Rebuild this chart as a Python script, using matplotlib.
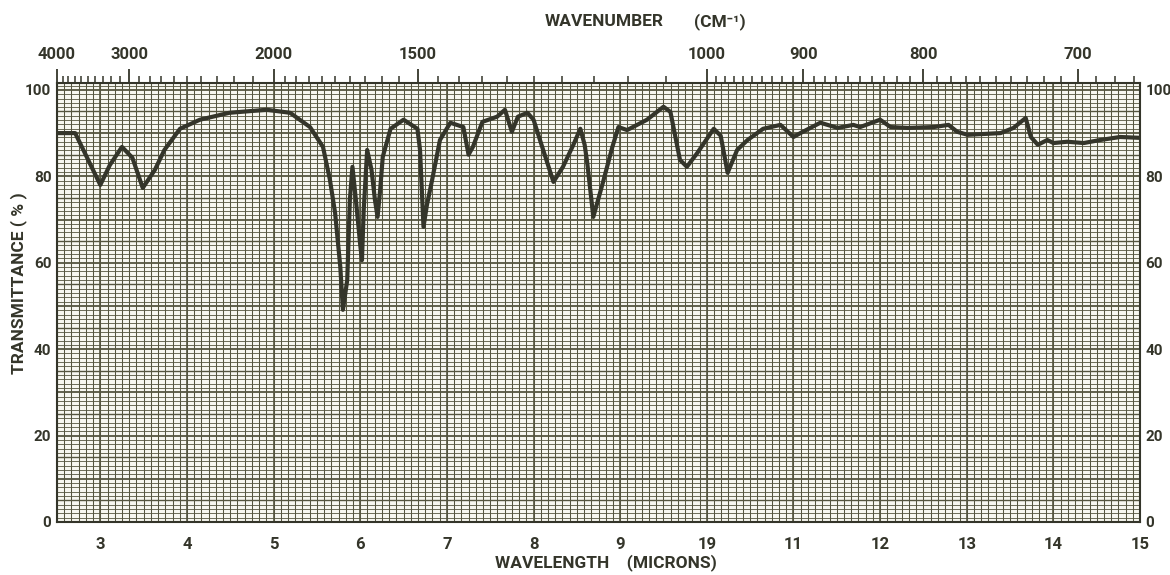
import numpy as np
import matplotlib
matplotlib.use("Agg")
import matplotlib.pyplot as plt

plt.rcParams['font.family'] = ['Roboto', 'DejaVu Sans']

# spectrum: wavelength (microns) and transmittance (%)
wavelength = [2.50, 2.71, 2.86, 3.00, 3.11, 3.25, 3.37, 3.49, 3.63, 3.74,
              3.92, 4.15, 4.49, 4.92, 5.19, 5.42, 5.57, 5.65, 5.71, 5.77,
              5.80, 5.85, 5.88, 5.91, 5.95, 6.00, 6.02, 6.04, 6.08, 6.13,
              6.17, 6.20, 6.23, 6.26, 6.35, 6.50, 6.66, 6.69, 6.73, 6.77,
              6.83, 6.92, 7.04, 7.19, 7.25, 7.30, 7.41, 7.58, 7.67, 7.75,
              7.82, 7.93, 8.00, 8.10, 8.23, 8.34, 8.46, 8.54, 8.59, 8.62,
              8.69, 8.80, 8.91, 8.98, 9.08, 9.31, 9.50, 9.58, 9.69, 9.77,
              9.89, 10.08, 10.16, 10.24, 10.35, 10.47, 10.65, 10.85, 11.00, 11.08,
              11.31, 11.51, 11.69, 11.77, 12.00, 12.12, 12.32, 12.62, 12.79, 12.89,
              13.01, 13.39, 13.54, 13.68, 13.74, 13.82, 13.93, 14.00, 14.16, 14.35,
              14.54, 14.77, 15.00]
transmittance = [90.0, 90.0, 83.8, 78.0, 82.6, 86.8, 84.3, 77.3, 81.5, 86.1,
                 91.0, 93.1, 94.7, 95.4, 94.7, 91.4, 86.8, 79.2, 71.5, 59.0,
                 49.1, 56.0, 74.5, 82.2, 74.5, 64.1, 60.6, 72.2, 86.1, 81.5,
                 74.5, 70.6, 76.9, 84.5, 91.0, 93.1, 91.0, 86.1, 68.3, 73.4,
                 79.2, 88.4, 92.4, 91.4, 85.0, 86.8, 92.6, 93.8, 95.4, 90.3,
                 93.8, 94.7, 93.1, 86.8, 78.7, 82.2, 87.3, 91.0, 87.3, 83.1,
                 70.6, 78.5, 86.8, 91.4, 90.7, 93.1, 96.1, 94.9, 83.8, 82.2,
                 85.4, 91.0, 89.4, 80.8, 86.1, 88.4, 91.0, 91.9, 89.1, 90.0,
                 92.4, 91.2, 91.9, 91.4, 93.1, 91.4, 91.2, 91.4, 91.9, 90.3,
                 89.6, 90.0, 91.2, 93.5, 89.1, 87.3, 88.4, 87.7, 88.0, 87.7,
                 88.4, 89.1, 88.9]

y_ticks = [0, 20, 40, 60, 80, 100]
x_ticks = [3, 4, 5, 6, 7, 8, 9, 10, 11, 12, 13, 14, 15]
x_labels = ['3', '4', '5', '6', '7', '8', '9', '19', '11', '12', '13', '14', '15']
wn_ticks = [4000, 3000, 2000, 1500, 1000, 900, 800, 700]

ink = '#34352a'
grid_col = '#55553f'

fig = plt.figure(figsize=(11.7, 5.75), dpi=100)
ax = fig.add_axes([0.0487, 0.0922, 0.9257, 0.7635])
ax.set_facecolor('#f7f7f0')
ax.set_xlim(2.5, 15)
ax.set_ylim(0, 101.6)

# chart paper grid
for v in np.arange(2.5, 15.001, 1 / 12):
    ax.axvline(v, color=grid_col, lw=0.75, zorder=1)
for v in np.arange(3, 15.5, 1):
    ax.axvline(v, color=grid_col, lw=1.2, zorder=1)
for h in range(0, 102):
    lw = 1.3 if h % 10 == 0 else (1.0 if h % 5 == 0 else 0.6)
    ax.axhline(h, color=grid_col, lw=lw, zorder=1)

ax.plot(wavelength, transmittance, color=ink, lw=3.0, solid_joinstyle='round',
        solid_capstyle='round', zorder=3)

for s in ax.spines.values():
    s.set_color(ink)
    s.set_linewidth(1.5)

ax.set_xticks(x_ticks)
ax.set_xticklabels(x_labels)
ax.set_yticks(y_ticks)
ax.tick_params(axis='x', length=0, pad=11, labelsize=12, colors=ink)
ax.tick_params(axis='y', length=0, pad=2, labelsize=11, colors=ink,
               left=True, right=True, labelleft=True, labelright=True)
for lab in ax.get_xticklabels() + ax.get_yticklabels():
    lab.set_fontweight('bold')
for t in ax.yaxis.get_major_ticks():
    t.set_pad(4)

# wavenumber scale on top
top = ax.secondary_xaxis('top', functions=(lambda x: 1e4 / x, lambda w: 1e4 / w))
top.set_xticks(wn_ticks)
top.set_xticklabels([str(w) for w in wn_ticks], fontweight='bold')
minor_wn = list(range(4000, 2000, -100)) + list(range(2000, 1000, -50)) + list(range(1000, 660, -10))
top.set_xticks(minor_wn, minor=True)
top.tick_params(axis='x', which='major', length=10, width=1.3, colors=ink, labelsize=12, pad=5)
top.tick_params(axis='x', which='minor', length=5, width=1.1, colors=ink)
top.spines['top'].set_visible(False)

fig.text(0.516, 0.962, 'WAVENUMBER', fontsize=12.5, fontweight='bold', color=ink,
         ha='center', va='center')
fig.text(0.615, 0.962, '(CM⁻¹)', fontsize=12.5, fontweight='bold', color=ink,
         ha='center', va='center')
fig.text(0.518, 0.021, 'WAVELENGTH    (MICRONS)', fontsize=12.5, fontweight='bold',
         color=ink, ha='center', va='center')
fig.text(0.016, 0.508, 'TRANSMITTANCE ( % )', fontsize=12.5, fontweight='bold',
         color=ink, ha='center', va='center', rotation=90)

fig.savefig('out.png', dpi=100, facecolor='white')
